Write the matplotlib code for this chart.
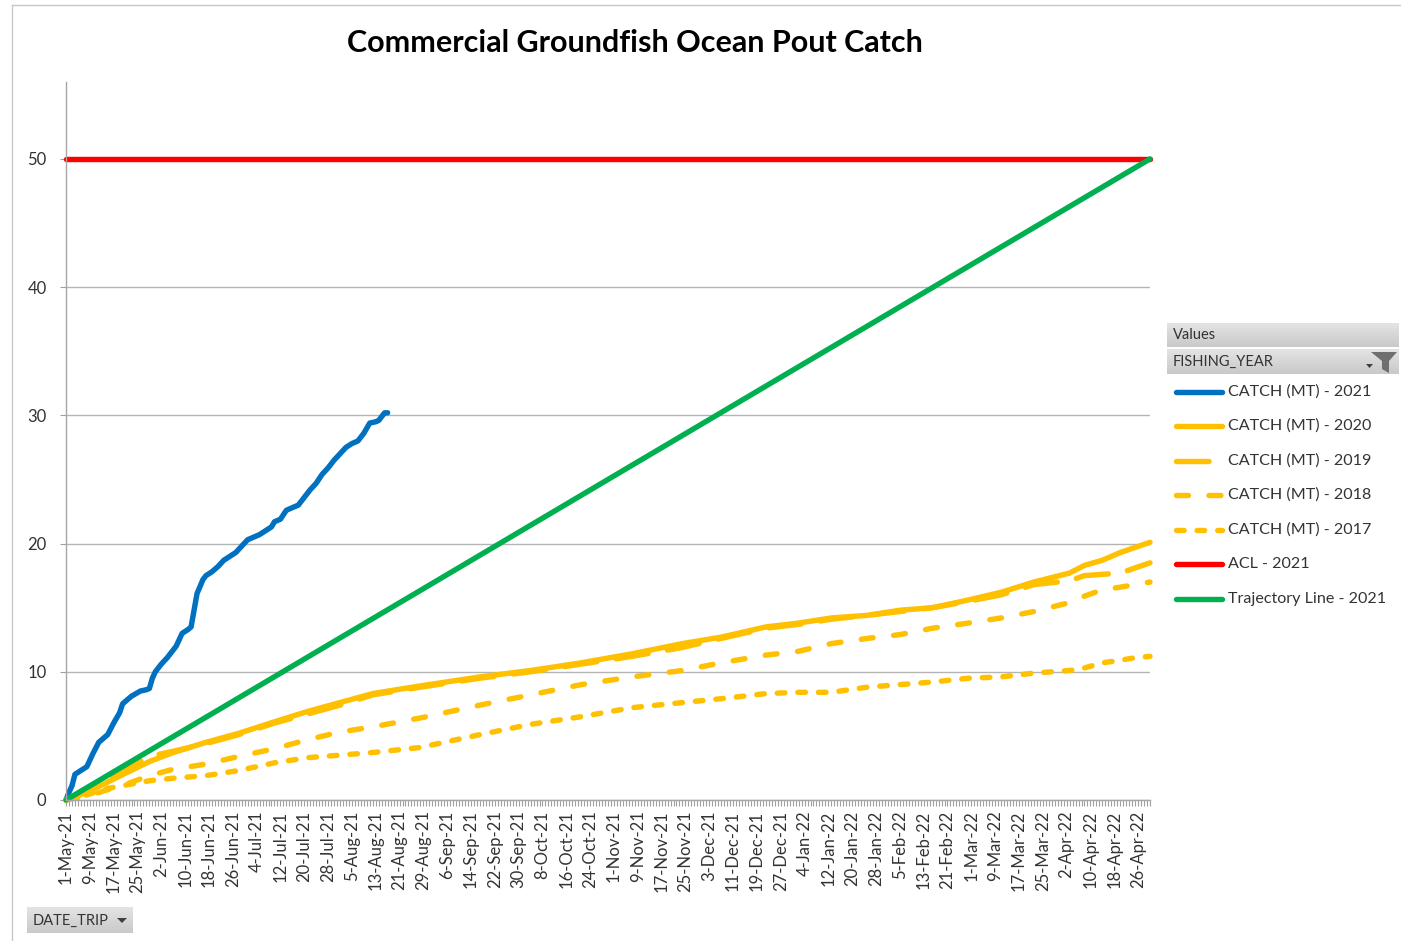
import matplotlib
matplotlib.use('Agg')
import matplotlib.pyplot as plt
from matplotlib.lines import Line2D
from matplotlib.patches import Polygon
from matplotlib.colors import LinearSegmentedColormap
import matplotlib.ticker as mticker
import matplotlib.dates as mdates
import numpy as np
import pandas as pd

plt.rcParams['font.family'] = ['Lato', 'DejaVu Sans']

# ---------------- data ----------------
title = "Commercial Groundfish Ocean Pout Catch"
legend_header = "Values"
legend_field = "FISHING_YEAR"
axis_button = "DATE_TRIP"
series_labels = ["CATCH (MT) - 2021", "CATCH (MT) - 2020", "CATCH (MT) - 2019",
                 "CATCH (MT) - 2018", "CATCH (MT) - 2017", "ACL - 2021",
                 "Trajectory Line - 2021"]
y_ticks = [0, 10, 20, 30, 40, 50]
x_start = "2021-05-01"
x_end = "2022-04-30"

dates_2021 = ["2021-05-01", "2021-05-02", "2021-05-03", "2021-05-04", "2021-05-06",
              "2021-05-08", "2021-05-10", "2021-05-12", "2021-05-14", "2021-05-15",
              "2021-05-17", "2021-05-19", "2021-05-20", "2021-05-22", "2021-05-23",
              "2021-05-26", "2021-05-28", "2021-05-29", "2021-05-30", "2021-05-31",
              "2021-06-02", "2021-06-04", "2021-06-06", "2021-06-07", "2021-06-09",
              "2021-06-11", "2021-06-12", "2021-06-13", "2021-06-14", "2021-06-16",
              "2021-06-17", "2021-06-19", "2021-06-21", "2021-06-23", "2021-06-25",
              "2021-06-27", "2021-06-29", "2021-07-01", "2021-07-03", "2021-07-05",
              "2021-07-07", "2021-07-09", "2021-07-10", "2021-07-12", "2021-07-14",
              "2021-07-16", "2021-07-18", "2021-07-20", "2021-07-22", "2021-07-24",
              "2021-07-26", "2021-07-28", "2021-07-30", "2021-08-01", "2021-08-03",
              "2021-08-05", "2021-08-07", "2021-08-09", "2021-08-11", "2021-08-13",
              "2021-08-14", "2021-08-16", "2021-08-17"]
catch_2021 = [0.0, 0.6, 1.1, 2.0, 2.3,
              2.6, 3.6, 4.5, 4.9, 5.1,
              6.0, 6.8, 7.5, 7.9, 8.1,
              8.5, 8.6, 8.7, 9.5, 10.0,
              10.6, 11.1, 11.7, 12.0, 13.0,
              13.3, 13.5, 14.8, 16.1, 17.2,
              17.5, 17.8, 18.2, 18.7, 19.0,
              19.3, 19.8, 20.3, 20.5, 20.7,
              21.0, 21.3, 21.7, 21.9, 22.6,
              22.8, 23.0, 23.6, 24.2, 24.7,
              25.4, 25.9, 26.5, 27.0, 27.5,
              27.8, 28.0, 28.6, 29.4, 29.5,
              29.6, 30.2, 30.2]

dates_prior = ["2021-05-01", "2021-05-08", "2021-05-15", "2021-05-22", "2021-05-29",
               "2021-06-06", "2021-06-17", "2021-06-28", "2021-07-10", "2021-07-21",
               "2021-08-01", "2021-08-12", "2021-08-28", "2021-09-17", "2021-10-04",
               "2021-10-21", "2021-11-07", "2021-11-24", "2021-12-07", "2021-12-22",
               "2022-01-02", "2022-01-13", "2022-01-25", "2022-02-05", "2022-02-16",
               "2022-02-28", "2022-03-11", "2022-03-22", "2022-04-03", "2022-04-08",
               "2022-04-14", "2022-04-20", "2022-04-25", "2022-04-30"]
catch_2020 = [0.0, 0.6, 1.4, 2.2, 3.0, 3.7, 4.5, 5.2, 6.1, 6.9,
              7.6, 8.3, 8.9, 9.6, 10.1, 10.7, 11.4, 12.2, 12.7, 13.5,
              13.8, 14.2, 14.4, 14.8, 15.0, 15.6, 16.2, 17.0, 17.7, 18.3,
              18.7, 19.3, 19.7, 20.1]
catch_2019 = [0.0, 0.8, 1.6, 2.5, 3.4, 3.8, 4.4, 5.1, 6.0, 6.7,
              7.4, 8.2, 8.8, 9.5, 10.0, 10.6, 11.2, 11.9, 12.6, 13.4,
              13.7, 14.1, 14.4, 14.7, 15.0, 15.5, 16.0, 16.8, 17.1, 17.5,
              17.6, 17.7, 18.1, 18.5]
catch_2018 = [0.0, 0.3, 0.8, 1.3, 1.9, 2.4, 2.8, 3.4, 4.0, 4.7,
              5.3, 5.7, 6.4, 7.4, 8.2, 9.0, 9.6, 10.1, 10.7, 11.3,
              11.6, 12.2, 12.6, 12.9, 13.4, 13.8, 14.2, 14.7, 15.4, 15.9,
              16.4, 16.6, 16.8, 17.0]
catch_2017 = [0.0, 0.4, 0.9, 1.2, 1.5, 1.7, 1.9, 2.3, 2.9, 3.3,
              3.5, 3.7, 4.1, 5.1, 5.9, 6.5, 7.2, 7.6, 7.9, 8.3,
              8.4, 8.4, 8.8, 9.0, 9.2, 9.5, 9.6, 9.9, 10.1, 10.3,
              10.7, 10.9, 11.1, 11.2]

acl_dates = ["2021-05-01", "2022-04-30"]
acl_2021 = [50, 50]
traj_dates = ["2021-05-01", "2022-04-30"]
traj_2021 = [0, 50]

# ---------------- styles ----------------
BLUE = "#0070C0"
GOLD = "#FFC000"
RED = "#FF0000"
GREEN = "#00B050"
LW = 3.9
styles = [
    dict(color=BLUE, linestyle="-"),
    dict(color=GOLD, linestyle="-"),
    dict(color=GOLD, linestyle=(0, (6, 3.6))),
    dict(color=GOLD, linestyle=(0, (2.2, 3.8))),
    dict(color=GOLD, linestyle=(0, (1.4, 2.4))),
    dict(color=RED, linestyle="-"),
    dict(color=GREEN, linestyle="-"),
]

W, H = 1401, 941
fig = plt.figure(figsize=(W / 100, H / 100), dpi=100)
fig.patch.set_facecolor("white")

L, R, T, B = 66, 1150, 82, 800
ax = fig.add_axes([L / W, 1 - B / H, (R - L) / W, (B - T) / H])

series = [
    (dates_2021, catch_2021),
    (dates_prior, catch_2020),
    (dates_prior, catch_2019),
    (dates_prior, catch_2018),
    (dates_prior, catch_2017),
    (acl_dates, acl_2021),
    (traj_dates, traj_2021),
]
for (d, v), st, lab in zip(series, styles, series_labels):
    ax.plot(pd.to_datetime(d), v, lw=LW, solid_capstyle="round",
            dash_capstyle="round", solid_joinstyle="round", label=lab,
            clip_on=False, **st)

ax.set_xlim(pd.Timestamp(x_start), pd.Timestamp(x_end))
ax.set_ylim(0, 56)
ax.set_yticks(y_ticks)
ax.yaxis.grid(True, color="#b4b4b4", lw=1.0)
ax.set_axisbelow(True)

tick_dates = pd.date_range(x_start, x_end, freq="8D")
ax.xaxis.set_major_locator(mticker.FixedLocator(mdates.date2num(tick_dates)))
ax.xaxis.set_minor_locator(mticker.FixedLocator(
    mdates.date2num(pd.date_range(x_start, x_end, freq="D"))))
ax.set_xticklabels([f"{d.day}-{d.strftime('%b-%y')}" for d in tick_dates],
                   rotation=90)
ax.tick_params(axis="x", which="both", length=4.5, width=0.8, color="#a0a0a0",
               direction="out", pad=3, labelsize=12, labelcolor="#333333")
ax.tick_params(axis="y", length=4, width=0.8, color="#a0a0a0", pad=10,
               labelsize=12, labelcolor="#333333")
for s in ["top", "right"]:
    ax.spines[s].set_visible(False)
for s in ["left", "bottom"]:
    ax.spines[s].set_color("#a6a6a6")
    ax.spines[s].set_linewidth(1.0)

fig.text(635 / W, 1 - 43 / H, title, ha="center", va="center",
         fontsize=22, fontweight="bold", color="#000000")

# ---------------- overlay (pixel coords) ----------------
ov = fig.add_axes([0, 0, 1, 1], zorder=10)
ov.set_xlim(0, W)
ov.set_ylim(H, 0)
ov.axis("off")
ov.patch.set_alpha(0)

# screenshot frame lines
ov.plot([12, 12], [5, H], color="#c8c8c8", lw=1)
ov.plot([12, W], [5, 5], color="#c8c8c8", lw=1)

grad = np.linspace(0, 1, 50).reshape(-1, 1)
cmap_hdr = LinearSegmentedColormap.from_list("hdr", ["#e4e4e4", "#c9c9c9"])


def grad_box(x0, y0, x1, y1):
    ov.imshow(grad, cmap=cmap_hdr, aspect="auto",
              extent=(x0, x1, y1, y0), zorder=1)


grad_box(1167, 323, 1399, 347)
grad_box(1167, 349, 1399, 374)
ov.text(1173, 335, legend_header, fontsize=10.5, color="#333333",
        va="center", ha="left", zorder=3)
ov.text(1173, 361.5, legend_field, fontsize=10.5, color="#333333",
        va="center", ha="left", zorder=3)
ov.add_patch(Polygon([(1371, 352), (1397, 352), (1389, 361), (1389, 373),
                      (1382, 369), (1382, 361)], closed=True,
                     facecolor="#6f6f6f", edgecolor="none", zorder=3))
ov.add_patch(Polygon([(1366, 364), (1373, 364), (1369.5, 368)], closed=True,
                     facecolor="#404040", edgecolor="none", zorder=3))

entry_y = [392, 426, 461, 495, 530, 564, 599]
for yy, st, lab in zip(entry_y, styles, series_labels):
    ov.add_line(Line2D([1175.5, 1222], [yy, yy], lw=LW, solid_capstyle="round",
                       dash_capstyle="round", zorder=3, **st))
    ov.text(1228, yy, lab, fontsize=11.6, color="#333333", va="center",
            ha="left", zorder=3)

# DATE_TRIP button
grad_box(27, 907, 133, 933)
ov.text(33, 920.5, axis_button, fontsize=10.5, color="#333333",
        va="center", ha="left", zorder=3)
ov.add_patch(Polygon([(117, 918), (127, 918), (122, 923)], closed=True,
                     facecolor="#404040", edgecolor="none", zorder=3))
ov.set_xlim(0, W)
ov.set_ylim(H, 0)

fig.savefig("out.png", dpi=100, facecolor="white")
